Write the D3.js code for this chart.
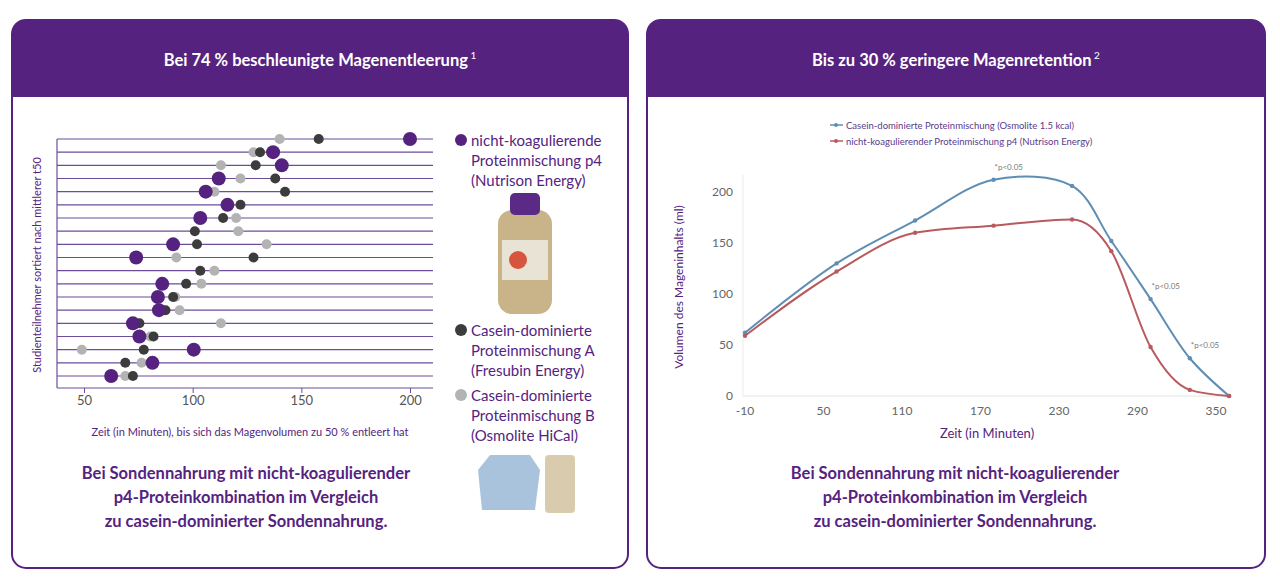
<!DOCTYPE html>
<html><head><meta charset="utf-8">
<script src="https://cdn.jsdelivr.net/npm/d3@7"></script>
<style>body{margin:0;background:#fff;font-family:Lato,"Open Sans",sans-serif}</style>
</head><body><svg id="c" width="1280" height="583"></svg>
<script>
// Left chart data (minutes, t50) per participant row, top to bottom
const rows = d3.range(1,20);
const p4 =   [200,137,141,112,106,116,103.5,null,91,74,null,86,84,84.5,72.5,75.5,100.5,81.5,62.5];
const caseinA = [158,131,129,138,142.5,122,114,101,102,128,103.5,97,91,87.5,75.5,82,77.5,69,72.5];
const caseinB = [140,128,113,122,110,null,120,121,134,92.5,110,104,92,94,113,80.5,49,76.5,69];
const leftTicks = [50,100,150,200];
// Right chart data
const times = [-10,60,120,180,240,270,300,330,360];
const osmolite = [62,130,172,212,206,152,95,37,0];
const nutrison = [59,122,160,167,173,142,48,6,0];
const rightXTicks = [-10,50,110,170,230,290,350];
const rightYTicks = [0,50,100,150,200];
const sig = [[180,212],[300,95],[330,37]];

const svg = d3.select("#c");
const PUR = "#55237f";
function panel(x,w,title){
  svg.append("rect").attr("x",x).attr("y",20).attr("width",w).attr("height",548).attr("rx",14).attr("fill","#fff").attr("stroke",PUR).attr("stroke-width",2);
  svg.append("path").attr("d",`M${x},97 L${x},34 Q${x},20 ${x+14},20 L${x+w-14},20 Q${x+w},20 ${x+w},34 L${x+w},97 Z`).attr("fill",PUR);
  const t = svg.append("text").attr("x",x+w/2).attr("y",66).attr("text-anchor","middle").attr("fill","#fff").attr("font-size",16.5).attr("font-weight",700).text(title[0]);
  t.append("tspan").attr("font-size",10).attr("font-weight",400).attr("dy",-7).text(" "+title[1]);
}
panel(12,616,["Bei 74 % beschleunigte Magenentleerung","1"]);
panel(647,618,["Bis zu 30 % geringere Magenretention","2"]);
function footer(cx){
  ["Bei Sondennahrung mit nicht-koagulierender","p4-Proteinkombination im Vergleich","zu casein-dominierter Sondennahrung."].forEach((s,i)=>
   svg.append("text").attr("x",cx).attr("y",479+i*24).attr("text-anchor","middle").attr("fill",PUR).attr("font-size",16.5).attr("font-weight",700).text(s));
}
footer(246); footer(955);

// Left dot plot
const x = d3.scaleLinear().domain([50,200]).range([84,410]);
const y = d3.scalePoint().domain(rows).range([139,376]);
const g = svg.append("g");
const LC = "#6d4d9a";
rows.forEach(r=>g.append("line").attr("x1",57).attr("x2",433).attr("y1",y(r)).attr("y2",y(r)).attr("stroke",LC).attr("stroke-width",1.2));
g.append("line").attr("x1",57).attr("x2",57).attr("y1",y(1)).attr("y2",388).attr("stroke",LC).attr("stroke-width",1.2);
const ax = g.append("g").attr("transform","translate(0,388)").call(d3.axisBottom(x).tickValues(leftTicks).tickSize(5).tickSizeOuter(0));
ax.select(".domain").attr("d","M57,0H433").attr("stroke",LC);
ax.selectAll("line").attr("stroke",LC);
ax.selectAll("text").attr("fill","#555").attr("font-size",13).attr("font-family","Lato");
function dots(arr,col,r){rows.forEach((row,i)=>{if(arr[i]!=null)g.append("circle").attr("cx",x(arr[i])).attr("cy",y(row)).attr("r",r).attr("fill",col);});}
dots(caseinB,"#b3b3b3",5); dots(caseinA,"#3c3c3c",5); dots(p4,PUR,7);
svg.append("text").attr("transform","translate(41,265) rotate(-90)").attr("text-anchor","middle").attr("fill",PUR).attr("font-size",11).text("Studienteilnehmer sortiert nach mittlerer t50");
svg.append("text").attr("x",250).attr("y",436).attr("text-anchor","middle").attr("fill",PUR).attr("font-size",11).text("Zeit (in Minuten), bis sich das Magenvolumen zu 50 % entleert hat");
// legend
[[140,PUR,["nicht-koagulierende","Proteinmischung p4","(Nutrison Energy)"]],[330,"#3c3c3c",["Casein-dominierte","Proteinmischung A","(Fresubin Energy)"]],[395,"#b3b3b3",["Casein-dominierte","Proteinmischung B","(Osmolite HiCal)"]]].forEach(([yy,c,l])=>{
  svg.append("circle").attr("cx",461).attr("cy",yy).attr("r",6).attr("fill",c);
  l.forEach((s,i)=>svg.append("text").attr("x",471).attr("y",yy+6+i*20).attr("fill",PUR).attr("font-size",15).text(s));
});
// product illustrations (simple)
svg.append("rect").attr("x",498).attr("y",210).attr("width",54).attr("height",104).attr("rx",14).attr("fill","#c9b48a");
svg.append("rect").attr("x",510).attr("y",193).attr("width",30).attr("height",22).attr("rx",5).attr("fill","#5b2a86");
svg.append("rect").attr("x",502).attr("y",240).attr("width",46).attr("height",40).attr("fill","#e9e3d5");
svg.append("circle").attr("cx",518).attr("cy",260).attr("r",9).attr("fill","#d8553d");
svg.append("path").attr("d","M478,470 L490,455 L530,455 L540,470 L535,510 L482,510 Z").attr("fill","#a9c3dd");
svg.append("rect").attr("x",545).attr("y",455).attr("width",30).attr("height",58).attr("rx",4).attr("fill","#d9ccae");

// Right line chart
const xr = d3.scaleLinear().domain([-10,350]).range([745,1216]);
const yr = d3.scaleLinear().domain([0,200]).range([396,192]);
const gr = svg.append("g");
gr.append("line").attr("x1",743).attr("x2",1232).attr("y1",396).attr("y2",396).attr("stroke","#e4e4e4");
gr.append("line").attr("x1",743).attr("x2",743).attr("y1",175).attr("y2",396).attr("stroke","#ececec");
rightXTicks.forEach(t=>gr.append("text").attr("x",xr(t)).attr("y",415).attr("text-anchor","middle").attr("fill","#666").attr("font-size",12).text(t));
rightYTicks.forEach(t=>gr.append("text").attr("x",733).attr("y",yr(t)+4).attr("text-anchor","end").attr("fill","#666").attr("font-size",12).text(t));
[[osmolite,"#5f8eb5",d3.curveCatmullRom.alpha(0.5)],[nutrison,"#b85a5e",d3.curveMonotoneX]].forEach(([arr,c,cv])=>{
  const line = d3.line().x(d=>xr(d[0])).y(d=>yr(d[1])).curve(cv);
  const pts = times.map((t,i)=>[t,arr[i]]);
  gr.append("path").attr("d",line(pts)).attr("fill","none").attr("stroke",c).attr("stroke-width",2);
  pts.forEach(p=>gr.append("circle").attr("cx",xr(p[0])).attr("cy",yr(p[1])).attr("r",2.2).attr("fill",c));
});
sig.forEach(s=>gr.append("text").attr("x",xr(s[0])+1).attr("y",yr(s[1])-10).attr("fill","#777").attr("font-size",8).text("*p<0.05"));
svg.append("text").attr("transform","translate(683,287) rotate(-90)").attr("text-anchor","middle").attr("fill",PUR).attr("font-size",12).text("Volumen des Mageninhalts (ml)");
svg.append("text").attr("x",987).attr("y",438).attr("text-anchor","middle").attr("fill",PUR).attr("font-size",13).text("Zeit (in Minuten)");
[["Casein-dominierte Proteinmischung (Osmolite 1.5 kcal)","#5f8eb5",125],["nicht-koagulierender Proteinmischung p4 (Nutrison Energy)","#b85a5e",141]].forEach(([s,c,yy])=>{
  svg.append("line").attr("x1",830).attr("x2",843).attr("y1",yy).attr("y2",yy).attr("stroke",c).attr("stroke-width",1.5);
  svg.append("circle").attr("cx",836).attr("cy",yy).attr("r",2).attr("fill",c);
  svg.append("text").attr("x",846).attr("y",yy+3.5).attr("fill","#5b3a8a").attr("font-size",9.5).text(s);
});
</script></body></html>
